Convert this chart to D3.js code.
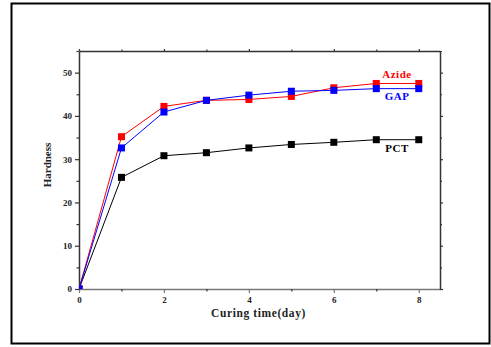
<!DOCTYPE html>
<html>
<head>
<meta charset="utf-8">
<script src="https://cdn.jsdelivr.net/npm/d3@7"></script>
<style>
  body { margin: 0; background: #fff; }
  text { font-family: "Liberation Serif", "DejaVu Serif", serif; font-weight: bold; }
</style>
</head>
<body>
<div id="chart-area"></div>
<script>
// curing time in days
var days = [0, 1, 2, 3, 4, 5, 6, 7, 8];
var azide = [0, 35.2, 42.2, 43.6, 43.8, 44.5, 46.5, 47.5, 47.5];
var gap   = [0, 32.6, 40.9, 43.6, 44.8, 45.7, 45.9, 46.3, 46.3];
var pct   = [0, 25.8, 30.8, 31.5, 32.6, 33.4, 33.9, 34.5, 34.5];
var seriesNames = ["Azide", "GAP", "PCT"];
var seriesColors = ["#ff0000", "#0000ff", "#000000"];
var xTicks = [0, 2, 4, 6, 8];
var yTicks = [0, 10, 20, 30, 40, 50];

var W = 491, H = 347;
// plot box (note: "top" is a reserved window global, so use p* names)
var pLeft = 79, pRight = 440, pTop = 51, pBottom = 289;

var svg = d3.select("#chart-area").append("svg")
    .attr("width", W)
    .attr("height", H);

// outer frame
svg.append("rect")
    .attr("x", 11.5).attr("y", 3.5)
    .attr("width", 478).attr("height", 340)
    .attr("fill", "none")
    .attr("stroke", "#000")
    .attr("stroke-width", 2);

var x = d3.scaleLinear().domain([0, 8.5]).range([pLeft, pRight]);
var y = d3.scaleLinear().domain([0, 55]).range([pBottom, pTop]);

svg.append("clipPath").attr("id", "plot-clip")
  .append("rect")
    .attr("x", pLeft).attr("y", pTop)
    .attr("width", pRight - pLeft).attr("height", pBottom - pTop);

function styleAxis(g, showLabels, color) {
    g.select(".domain").attr("stroke", color).attr("stroke-width", 1.5);
    g.selectAll(".tick line").attr("stroke", color).attr("stroke-width", 1.2);
    g.selectAll(".tick text")
        .attr("font-size", 9)
        .attr("fill", "#222")
        .style("display", showLabels ? null : "none");
}

// minor ticks
var xMinor = [1, 3, 5, 7];
var yMinor = [5, 15, 25, 35, 45, 55];

var bottomAxis = svg.append("g").attr("transform", "translate(0," + pBottom + ")")
    .call(d3.axisBottom(x).tickValues(xTicks).tickSize(4).tickPadding(4).tickSizeOuter(0));
styleAxis(bottomAxis, true, "#777");
svg.append("g").attr("transform", "translate(0," + pBottom + ")")
    .call(d3.axisBottom(x).tickValues(xMinor).tickSize(2.5).tickSizeOuter(0).tickFormat(""))
    .call(function(g){ styleAxis(g, false, "#333"); g.select(".domain").remove(); });

var topAxis = svg.append("g").attr("transform", "translate(0," + pTop + ")")
    .call(d3.axisTop(x).tickValues(xTicks).tickSize(2).tickSizeOuter(0).tickFormat(""));
styleAxis(topAxis, false, "#333");
svg.append("g").attr("transform", "translate(0," + pTop + ")")
    .call(d3.axisTop(x).tickValues(xMinor).tickSize(1.5).tickSizeOuter(0).tickFormat(""))
    .call(function(g){ styleAxis(g, false, "#333"); g.select(".domain").remove(); });

var leftAxis = svg.append("g").attr("transform", "translate(" + pLeft + ",0)")
    .call(d3.axisLeft(y).tickValues(yTicks).tickSize(4).tickPadding(3).tickSizeOuter(0));
styleAxis(leftAxis, true, "#333");
svg.append("g").attr("transform", "translate(" + pLeft + ",0)")
    .call(d3.axisLeft(y).tickValues(yMinor).tickSize(2.5).tickSizeOuter(0).tickFormat(""))
    .call(function(g){ styleAxis(g, false, "#333"); g.select(".domain").remove(); });

var rightAxis = svg.append("g").attr("transform", "translate(" + pRight + ",0)")
    .call(d3.axisRight(y).tickValues(yTicks).tickSize(3).tickSizeOuter(0).tickFormat(""));
styleAxis(rightAxis, false, "#333");
svg.append("g").attr("transform", "translate(" + pRight + ",0)")
    .call(d3.axisRight(y).tickValues(yMinor).tickSize(2).tickSizeOuter(0).tickFormat(""))
    .call(function(g){ styleAxis(g, false, "#333"); g.select(".domain").remove(); });

// axis titles
svg.append("text")
    .attr("x", (pLeft + pRight) / 2 - 1)
    .attr("y", 317)
    .attr("text-anchor", "middle")
    .attr("font-size", 11.5)
    .attr("fill", "#222")
    .attr("letter-spacing", 0.6)
    .text("Curing time(day)");

svg.append("text")
    .attr("transform", "translate(51," + ((pTop + pBottom) / 2 - 5) + ") rotate(-90)")
    .attr("text-anchor", "middle")
    .attr("font-size", 11)
    .attr("fill", "#222")
    .text("Hardness");

// series
var allSeries = [azide, gap, pct];
var line = d3.line()
    .x(function(d, i){ return x(days[i]); })
    .y(function(d){ return y(d); });

var plot = svg.append("g").attr("clip-path", "url(#plot-clip)");
var drawOrder = [2, 0, 1];
drawOrder.forEach(function(s){
    plot.append("path")
        .datum(allSeries[s])
        .attr("fill", "none")
        .attr("stroke", seriesColors[s])
        .attr("stroke-width", 1)
        .attr("d", line);
});
drawOrder.forEach(function(s){
    plot.selectAll(".m" + s)
        .data(allSeries[s])
        .enter()
        .append("rect")
            .attr("class", "m" + s)
            .attr("x", function(d, i){ return x(days[i]) - 3.5; })
            .attr("y", function(d){ return y(d) - 3.5; })
            .attr("width", 7)
            .attr("height", 7)
            .attr("fill", seriesColors[s]);
});

// series labels
var labelPos = [[397, 78], [397, 100], [397, 152]];
seriesNames.forEach(function(name, s){
    svg.append("text")
        .attr("x", labelPos[s][0])
        .attr("y", labelPos[s][1])
        .attr("text-anchor", "middle")
        .attr("font-size", 11)
        .attr("fill", seriesColors[s])
        .attr("letter-spacing", 0.5)
        .text(name);
});
</script>
</body>
</html>
